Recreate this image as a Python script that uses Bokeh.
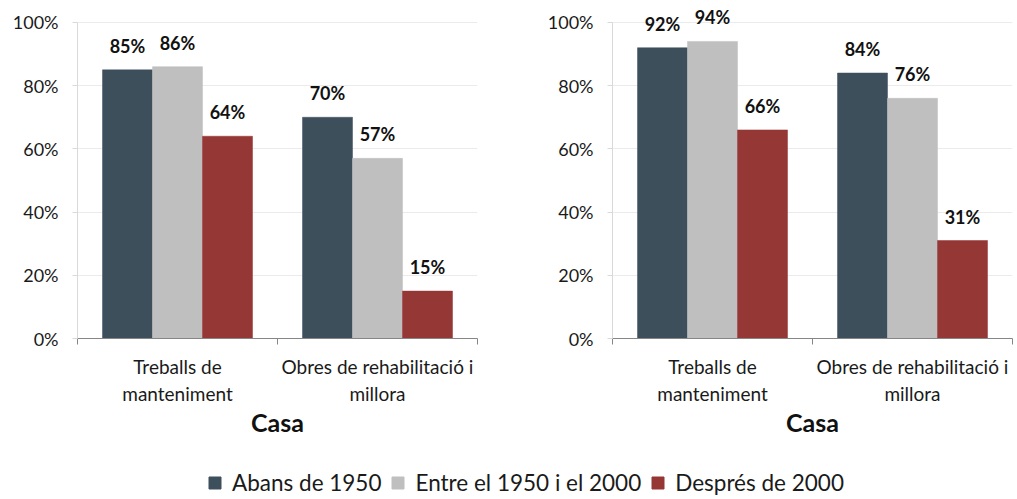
from bokeh.plotting import figure
from bokeh.models import (ColumnDataSource, Range1d, FixedTicker, PrintfTickFormatter,
                          Legend, LegendItem, LabelSet)
from bokeh.layouts import column, row
from bokeh.transform import dodge
from bokeh.core.properties import value
from bokeh.embed import file_html
from bokeh.resources import INLINE

categories = ["Treballs de\nmanteniment", "Obres de rehabilitació i\nmillora"]
series = ["Abans de 1950", "Entre el 1950 i el 2000", "Després de 2000"]
colors = ["#3E4F5C", "#BFBFBF", "#953735"]

left_abans = [85, 70]
left_entre = [86, 57]
left_despres = [64, 15]

right_abans = [92, 84]
right_entre = [94, 76]
right_despres = [66, 31]

y_ticks = [0, 20, 40, 60, 80, 100]
axis_title = "Casa"

FONT = "Lato"


def make_chart(vals, border_left, border_right):
    xs = [i + 0.5 for i in range(len(categories))]
    src = ColumnDataSource(dict(x=xs, a=vals[0], b=vals[1], c=vals[2],
                                la=[f"{v}%" for v in vals[0]],
                                lb=[f"{v}%" for v in vals[1]],
                                lc=[f"{v}%" for v in vals[2]]))
    p = figure(frame_width=400, frame_height=335,
               x_range=Range1d(0, len(categories)), y_range=Range1d(0, 106),
               output_backend="svg", toolbar_location=None,
               min_border_left=border_left, min_border_right=border_right,
               min_border_top=3, min_border_bottom=104)
    p.outline_line_color = None
    p.xgrid.visible = False
    p.ygrid.grid_line_color = "#EBEBEB"
    p.ygrid.ticker = FixedTicker(ticks=y_ticks)

    offs = [-0.25, 0.0, 0.25]
    cols = ["a", "b", "c"]
    labs = ["la", "lb", "lc"]
    for off, col, lab, color in zip(offs, cols, labs, colors):
        p.vbar(x=dodge("x", off, range=p.x_range), top=col, width=0.25,
               source=src, fill_color=color, line_color=color, line_width=0.5)
        p.add_layout(LabelSet(x=dodge("x", off, range=p.x_range), y=col, text=lab,
                              source=src, text_align="center", text_baseline="bottom",
                              y_offset=13, text_font=value(FONT),
                              text_font_style="bold", text_font_size="18px",
                              text_color="#111111"))

    ya = p.yaxis[0]
    ya.ticker = FixedTicker(ticks=y_ticks)
    ya.bounds = (0, 100)
    ya.formatter = PrintfTickFormatter(format="%d%%")
    ya.axis_line_color = "#D9D9D9"
    ya.major_tick_line_color = "#D9D9D9"
    ya.major_tick_out = 5
    ya.major_tick_in = 0
    ya.minor_tick_line_color = None
    ya.major_label_standoff = 14
    ya.major_label_text_font = FONT
    ya.major_label_text_font_size = "18px"
    ya.major_label_text_color = "#1A1A1A"

    xa = p.xaxis[0]
    xa.ticker = FixedTicker(ticks=xs, minor_ticks=list(range(len(categories) + 1)))
    xa.major_label_overrides = {x: c for x, c in zip(xs, categories)}
    xa.major_tick_out = 0
    xa.major_tick_in = 0
    xa.minor_tick_out = 6
    xa.minor_tick_in = 0
    xa.axis_line_color = "#868686"
    xa.minor_tick_line_color = "#868686"
    xa.major_label_standoff = 10
    xa.major_label_text_font = FONT
    xa.major_label_text_font_size = "19px"
    xa.major_label_text_color = "#1A1A1A"
    xa.axis_label = axis_title
    xa.axis_label_text_font = FONT
    xa.axis_label_text_font_style = "bold"
    xa.axis_label_text_font_size = "25px"
    xa.axis_label_text_color = "#111111"
    xa.axis_label_standoff = -1
    return p


p1 = make_chart([left_abans, left_entre, left_despres], 77, 35)
p2 = make_chart([right_abans, right_entre, right_despres], 100, 1)

pleg = figure(width=1013, height=57, x_range=Range1d(0, 1), y_range=Range1d(0, 1),
              output_backend="svg", toolbar_location=None,
              x_axis_location=None, y_axis_location=None,
              min_border=0, min_border_left=0, min_border_right=0,
              min_border_top=0, min_border_bottom=0)
pleg.outline_line_color = None
pleg.xgrid.visible = False
pleg.ygrid.visible = False
items = []
for s, c in zip(series, colors):
    r = pleg.vbar(x=[-10], top=[-10], width=0.1, fill_color=c, line_color=c)
    items.append(LegendItem(label=s, renderers=[r]))
leg = Legend(items=items, orientation="horizontal", location=(207, 3),
             padding=0, margin=0, spacing=9, label_standoff=10,
             glyph_width=15, glyph_height=15, label_height=22,
             label_text_font=FONT, label_text_font_size="22.5px",
             label_text_color="#1A1A1A", border_line_color=None,
             background_fill_alpha=0)
pleg.add_layout(leg)

layout = column(row(p1, p2), pleg)
open("out.html", "w").write(file_html(layout, INLINE))
